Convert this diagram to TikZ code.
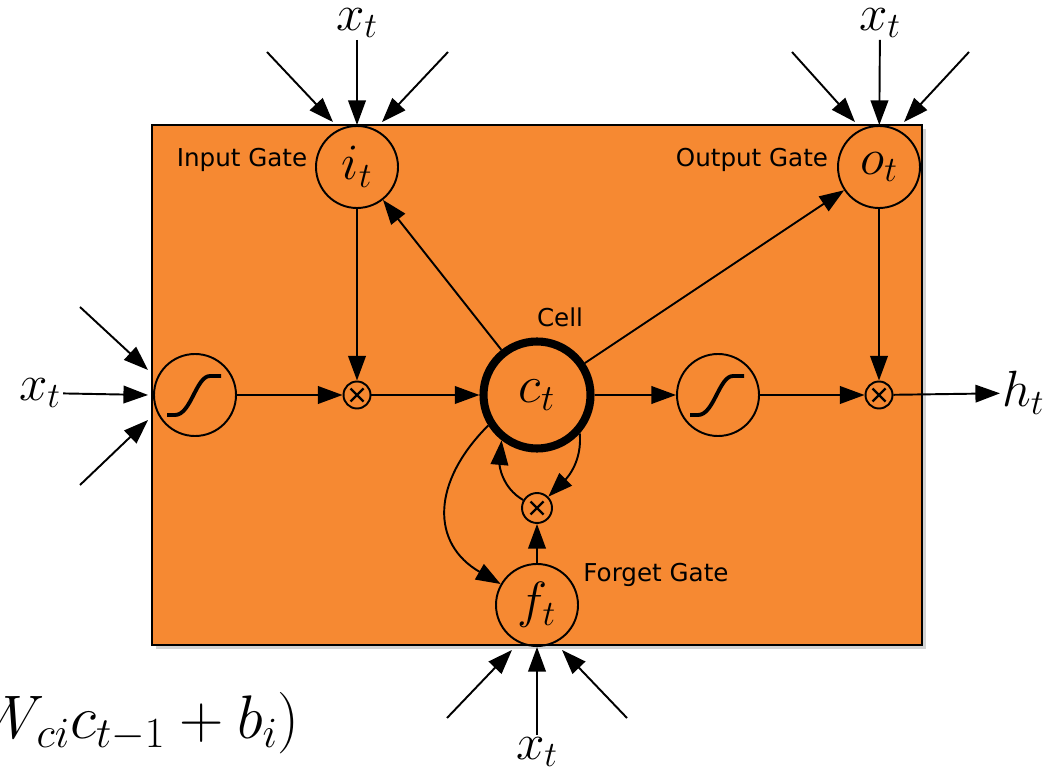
\RequirePackage{fix-cm}
\documentclass[tikz,border=0pt]{standalone}
\usepackage{amsmath,amssymb}
\usepackage{fontspec}
\setsansfont{DejaVu Sans}
\usepackage{tikz}
\usetikzlibrary{arrows.meta,positioning,calc,shadows}
\usepackage{xcolor}
\definecolor{CellOrange}{HTML}{F68932}

\begin{document}
\begin{tikzpicture}[
    gatenode/.style={draw, circle, line width=1.1pt, minimum size=1.64cm, inner sep=0pt, font=\fontsize{29}{30}\selectfont},
    signode/.style={draw, circle, line width=1.1pt, minimum size=1.64cm, inner sep=0pt,
      path picture={\draw[line width=2.2pt] (-0.56,-0.4) -- (-0.4,-0.4) .. controls (-0.08,-0.4) and (0.02,0.38) .. (0.3,0.38) -- (0.52,0.38);}},
    multnode/.style={draw, circle, line width=1.1pt, minimum size=0.54cm, inner sep=0pt,
      path picture={\draw[line width=1.3pt] (-0.13,-0.13) -- (0.13,0.13) (-0.13,0.13) -- (0.13,-0.13);}},
    cellnode/.style={draw, circle, line width=4.6pt, minimum size=2.14cm, inner sep=0pt, font=\fontsize{30}{32}\selectfont},
    lbl/.style={font=\sffamily\fontsize{14}{16}\selectfont},
    inlbl/.style={font=\fontsize{29}{30}\selectfont, inner sep=1pt},
    arr/.style={-{Triangle[length=14pt,width=10pt]}, line width=1.1pt}
  ]
    \useasboundingbox (0,0) rectangle (20.96,-15.34);

    % the cell box
    \node[draw, line width=1.1pt, fill=CellOrange, minimum width=15.4cm, minimum height=10.4cm, inner sep=0pt,
      drop shadow={shadow xshift=2pt, shadow yshift=-2pt, opacity=0.35}] (box) at (10.74,-7.7) {};

    \node[gatenode] (it) at (7.14,-3.34) {$i_t$};
    \node[gatenode] (ot) at (17.58,-3.34) {$o_t$};
    \node[gatenode] (ft) at (10.74,-12.1) {$f_t$};
    \node[cellnode] (ct) at (10.74,-7.9) {$c_t$};
    \node[signode] (s1) at (3.9,-7.9) {};
    \node[signode] (s2) at (14.36,-7.9) {};
    \node[multnode] (m1) at (7.14,-7.9) {};
    \node[multnode] (m2) at (17.58,-7.9) {};
    \node[multnode, minimum size=0.6cm] (m3) at (10.74,-10.16) {};

    \node[lbl] at (4.84,-3.2) {Input Gate};
    \node[lbl] at (15.04,-3.2) {Output Gate};
    \node[lbl] at (11.2,-6.34) {Cell};
    \node[lbl] at (13.12,-11.5) {Forget Gate};

    % inputs and output
    \node[inlbl] (xi) at (7.14,-0.46) {$x_t$};
    \node[inlbl] (xo) at (17.6,-0.46) {$x_t$};
    \node[inlbl] (xl) at (0.8,-7.86) {$x_t$};
    \node[inlbl] (xf) at (10.74,-15.04) {$x_t$};
    \node[inlbl, anchor=west] (ht) at (20.0,-7.86) {$h_t$};

    \node[anchor=base east, inner sep=0pt, font=\fontsize{35}{40}\selectfont] (eq) at (6.0,-14.76) {$W_{ci}c_{t-1} + b_i)$};

    \draw[arr] (xi) -- (it);
    \draw[arr] (5.34,-1.04) -- ($(it.north)+(-0.48,0.06)$);
    \draw[arr] (8.96,-1.04) -- ($(it.north)+(0.5,0.06)$);
    \draw[arr] (xo) -- (ot);
    \draw[arr] (15.84,-1.04) -- ($(ot.north)+(-0.48,0.06)$);
    \draw[arr] (19.38,-1.04) -- ($(ot.north)+(0.5,0.06)$);
    \draw[arr] (xl) -- ($(s1.west)+(-0.1,0)$);
    \draw[arr] (1.6,-6.14) -- ($(s1.west)+(-0.1,0.5)$);
    \draw[arr] (1.6,-9.7) -- ($(s1.west)+(-0.1,-0.5)$);
    \draw[arr] (xf) -- (ft);
    \draw[arr] (8.94,-14.36) -- ($(ft.south)+(-0.5,-0.06)$);
    \draw[arr] (12.54,-14.36) -- ($(ft.south)+(0.5,-0.06)$);

    \draw[arr] (s1) -- (m1);
    \draw[arr] (m1) -- (ct);
    \draw[arr] (ct) -- (s2);
    \draw[arr] (s2) -- (m2);
    \draw[arr] (m2) -- (ht);
    \draw[arr] (it) -- (m1);
    \draw[arr] (ot) -- (m2);
    \draw[arr] (ct) -- (it);
    \draw[arr] (ct) -- (ot);
    \draw[arr] (ft) -- (m3);
    \draw[arr] (m3) to[out=150, in=-95] (ct.-128);
    \draw[arr] (ct.-42) to[out=-85, in=45] (m3);
    \draw[arr] (ct.212) to[out=225, in=150, looseness=1.3] (ft);
  \end{tikzpicture}
\end{document}
